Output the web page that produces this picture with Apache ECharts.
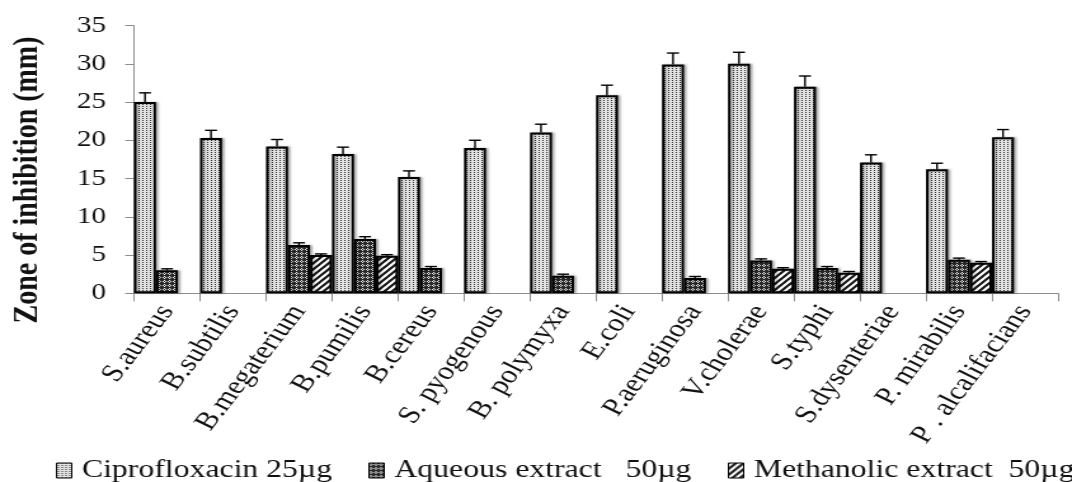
<!DOCTYPE html>
<html>
<head>
<meta charset="utf-8">
<script src="https://cdn.jsdelivr.net/npm/echarts/dist/echarts.min.js"></script>
<style>
    html, body { margin: 0; padding: 0; background: #fff; overflow: hidden; }
    /* the source figure is stretched sideways, so the chart is drawn narrow and widened */
    #chart { width: 844px; height: 482px; transform: scaleX(1.2701); transform-origin: 0 0; }
</style>
</head>
<body>
<div id="chart"></div>
<script>
    // 菌种
    var categories = ['S.aureus', 'B.subtilis', 'B.megaterium', 'B.pumilis', 'B.cereus', 'S. pyogenous',
        'B. polymyxa', 'E.coli', 'P.aeruginosa', 'V.cholerae', 'S.typhi', 'S.dysenteriae',
        'P. mirabilis', 'P . alcalifacians'];
    var seriesNames = ['Ciprofloxacin 25\u00b5g', 'Aqueous extract   50\u00b5g', 'Methanolic extract  50\u00b5g'];

    // 抑菌圈 (mm)
    var cipro = [25.0, 20.3, 19.2, 18.2, 15.2, 19.0, 21.0, 25.9, 29.9, 30.0, 27.0, 17.1, 16.2, 20.4];
    var ciproErr = [1.2, 1.0, 0.9, 0.9, 0.8, 1.0, 1.1, 1.3, 1.5, 1.5, 1.4, 1.0, 0.8, 1.0];
    var aqueous = [3.0, null, 6.3, 7.1, 3.3, null, 2.3, null, 2.0, 4.3, 3.3, null, 4.4, null];
    var aqueousErr = [0.2, 0, 0.3, 0.3, 0.2, 0, 0.2, 0, 0.2, 0.2, 0.2, 0, 0.2, 0];
    var methanolic = [null, null, 5.0, 4.9, null, null, null, null, null, 3.2, 2.7, null, 4.0, null];
    var methanolicErr = [0, 0, 0.15, 0.15, 0, 0, 0, 0, 0, 0.15, 0.15, 0, 0.15, 0];

    var yTicks = [0, 5, 10, 15, 20, 25, 30, 35];

    var FONT = 'Liberation Serif';

    // 填充图案
    function makePattern(w, h, draw) {
        var c = document.createElement('canvas');
        c.width = w;
        c.height = h;
        draw(c.getContext('2d'));
        return {image: c, repeat: 'repeat'};
    }
    var dotFill = makePattern(3, 2, function (ctx) {
        ctx.fillStyle = '#e2e2e2';
        ctx.fillRect(0, 0, 3, 2);
        ctx.fillStyle = '#333';
        ctx.fillRect(1, 0, 1, 1);
    });
    var checkFill = makePattern(4, 4, function (ctx) {
        ctx.fillStyle = '#2a2a2a';
        ctx.fillRect(0, 0, 4, 4);
        ctx.fillStyle = '#e8e8e8';
        ctx.fillRect(1, 0, 1, 1);
        ctx.fillRect(0, 1, 1, 1);
        ctx.fillRect(2, 1, 1, 1);
        ctx.fillRect(1, 2, 1, 1);
    });
    var stripeFill = makePattern(6, 6, function (ctx) {
        ctx.fillStyle = '#fff';
        ctx.fillRect(0, 0, 6, 6);
        ctx.strokeStyle = '#111';
        ctx.lineWidth = 2;
        ctx.beginPath();
        ctx.moveTo(0, 6); ctx.lineTo(6, 0);
        ctx.moveTo(-1, 1); ctx.lineTo(1, -1);
        ctx.moveTo(5, 7); ctx.lineTo(7, 5);
        ctx.stroke();
    });

    function barSeries(name, values, fill) {
        return {
            name: name,
            type: 'bar',
            barGap: '0%',
            barCategoryGap: '0%',
            itemStyle: {
                color: fill,
                borderColor: '#000',
                borderWidth: 2,
                shadowColor: 'rgba(0,0,0,0.25)',
                shadowBlur: 2,
                shadowOffsetX: 2
            },
            data: values
        };
    }

    // 误差线 (只画上半部分)
    function errorSeries(slot, values, errs) {
        var data = [];
        for (var i = 0; i < values.length; i++) {
            if (values[i] != null && errs[i] > 0) data.push([i, values[i], errs[i]]);
        }
        return {
            type: 'custom',
            z: 5,
            silent: true,
            encode: {x: 0, y: 1},
            renderItem: function (params, api) {
                var idx = api.value(0), v = api.value(1), e = api.value(2);
                var base = api.coord([idx, v]);
                var top = api.coord([idx, v + e]);
                var band = api.size([1, 0])[0];
                var x = base[0] + (slot - 1) * band / 3;
                var cap = 4.7;
                var st = {stroke: '#000', lineWidth: 1.4};
                return {
                    type: 'group',
                    children: [
                        {type: 'line', shape: {x1: x, y1: base[1], x2: x, y2: top[1]}, style: st},
                        {type: 'line', shape: {x1: x - cap, y1: top[1], x2: x + cap, y2: top[1]}, style: st}
                    ]
                };
            },
            data: data
        };
    }

    function legendAt(left, name) {
        return {
            data: [name],
            left: left,
            top: 453,
            icon: 'rect',
            itemWidth: 12,
            itemHeight: 15,
            itemStyle: {borderColor: '#000', borderWidth: 1},
            textStyle: {fontFamily: FONT, fontSize: 25, color: '#111', padding: [0, 0, 0, 3]}
        };
    }

    var chart = echarts.init(document.getElementById('chart'));
    chart.setOption({
        animation: false,
        backgroundColor: '#fff',
        grid: {left: 105.5, right: 11, top: 25.5, bottom: 188.7, containLabel: false, outerBoundsMode: 'none'},
        legend: [
            legendAt(39, seriesNames[0]),
            legendAt(285, seriesNames[1]),
            legendAt(568, seriesNames[2])
        ],
        graphic: [{
            type: 'text',
            x: 22,
            y: 180,
            rotation: Math.PI / 2,
            style: {
                text: 'Zone of inhibition (mm)',
                font: 'bold 28px ' + FONT,
                fill: '#111',
                textAlign: 'center',
                textVerticalAlign: 'middle'
            }
        }],
        xAxis: {
            type: 'category',
            data: categories,
            axisLine: {lineStyle: {color: '#8c8c8c', width: 1}},
            axisTick: {show: true, length: 8, lineStyle: {color: '#8c8c8c'}},
            axisLabel: {
                interval: 0,
                rotate: 58,
                margin: 14,
                fontFamily: FONT,
                fontSize: 25,
                color: '#111'
            }
        },
        yAxis: {
            type: 'value',
            min: yTicks[0],
            max: yTicks[yTicks.length - 1],
            interval: 5,
            splitLine: {show: false},
            axisLine: {show: true, lineStyle: {color: '#8c8c8c', width: 1}},
            axisTick: {show: true, length: 7, lineStyle: {color: '#8c8c8c'}},
            axisLabel: {margin: 22, fontFamily: FONT, fontSize: 23, color: '#111'}
        },
        series: [
            barSeries(seriesNames[0], cipro, dotFill),
            barSeries(seriesNames[1], aqueous, checkFill),
            barSeries(seriesNames[2], methanolic, stripeFill),
            errorSeries(0, cipro, ciproErr),
            errorSeries(1, aqueous, aqueousErr),
            errorSeries(2, methanolic, methanolicErr)
        ]
    });
</script>
</body>
</html>
